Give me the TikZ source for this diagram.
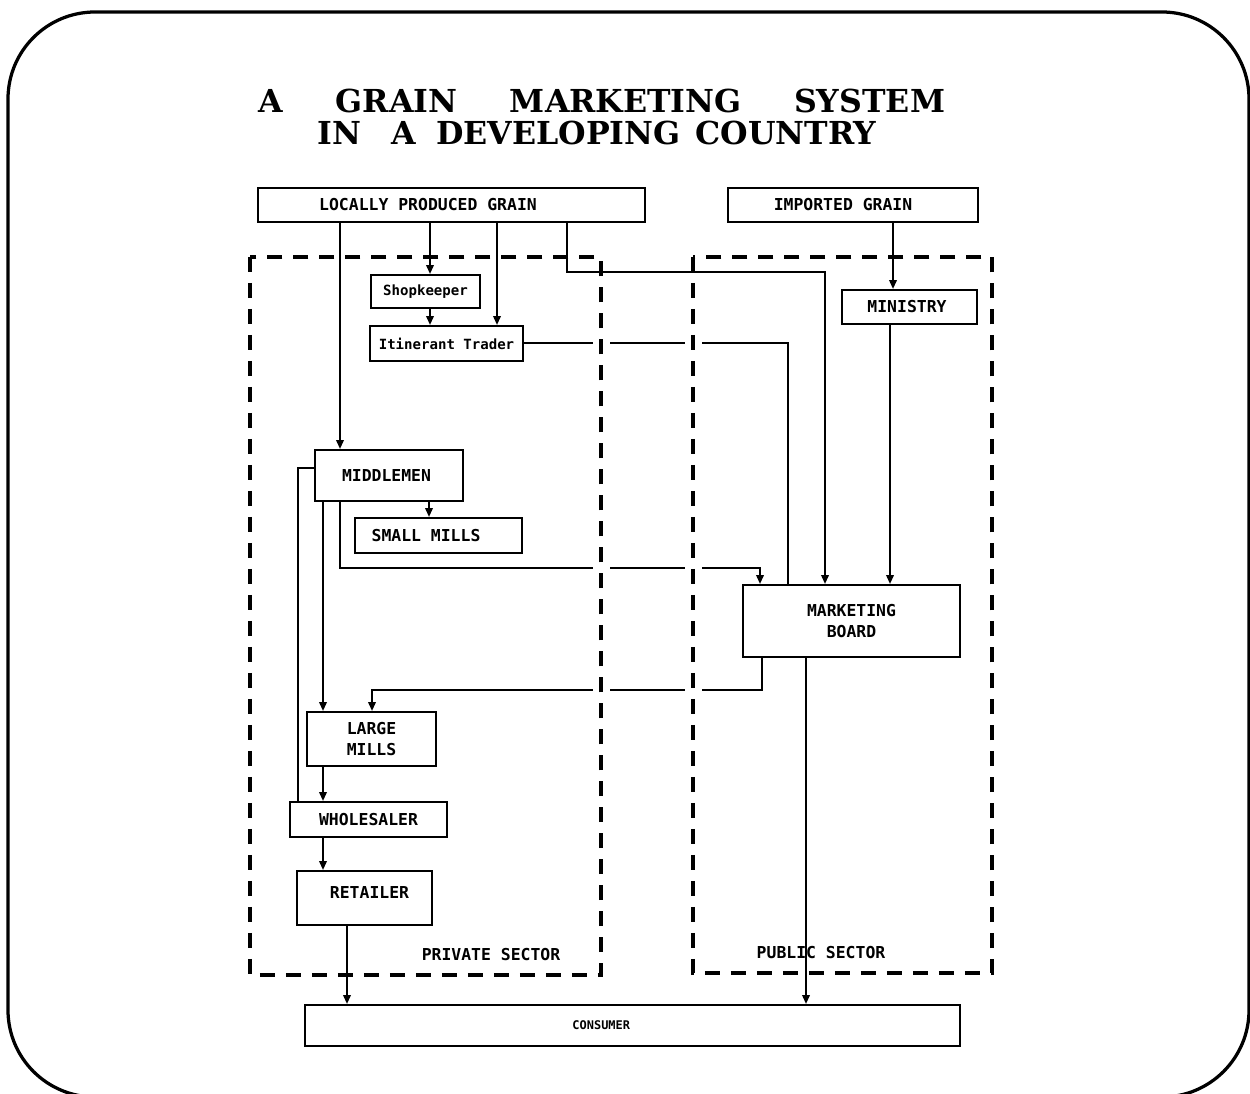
\documentclass[tikz,border=0pt]{standalone}
\usepackage{fontspec}
\usetikzlibrary{arrows.meta}
\newfontfamily\labelfont{DejaVu Sans Mono}
\newfontfamily\titlefont{DejaVu Serif}
\begin{document}
\begin{tikzpicture}[x=0.02cm,y=-0.02cm,
  box/.style={draw, line width=0.04cm, inner sep=0pt, align=center,
    font=\labelfont\bfseries\fontsize{9.35}{12.5}\selectfont},
  smallbox/.style={box, font=\labelfont\bfseries\fontsize{8}{10}\selectfont},
  sectorlabel/.style={inner sep=0pt, font=\labelfont\bfseries\fontsize{9.35}{11}\selectfont},
  conn/.style={line width=0.04cm},
  arr/.style={conn, -{Triangle[length=0.18cm,width=0.15cm]}},
  sector/.style={line width=0.065cm, dash pattern=on 0.3cm off 0.22cm},
  gap/.style={white, line width=0.34cm},
  titletext/.style={inner sep=0pt, font=\titlefont\bfseries\fontsize{18}{22}\selectfont}
]
\useasboundingbox (0,0) rectangle (1250,1094);

% outer frame
\draw[line width=0.065cm, rounded corners=1.74cm] (8,12) rectangle (1249,1097);

% title
\node[titletext] (title1) at (602,101) {A\hspace{1.05cm}GRAIN\hspace{1.05cm}MARKETING\hspace{1.05cm}SYSTEM};
\node[titletext] (title2) at (597,133) {IN\hspace{0.6cm}A\hspace{0.4cm}DEVELOPING\hspace{0.3cm}COUNTRY};

% sources
\node[box, minimum width=7.74cm, minimum height=0.68cm] (lpg) at (451.5,205)
  {LOCALLY PRODUCED GRAIN\hspace*{0.94cm}};
\node[box, minimum width=5.0cm, minimum height=0.68cm] (imp) at (853,205)
  {IMPORTED GRAIN\hspace*{0.4cm}};

% private sector
\node[smallbox, minimum width=2.18cm, minimum height=0.66cm] (shop) at (425.5,291.5) {Shopkeeper};
\node[smallbox, minimum width=3.06cm, minimum height=0.70cm] (itin) at (446.5,343.5) {Itinerant Trader};
\node[box, minimum width=2.96cm, minimum height=1.02cm] (mid) at (389,475.5) {MIDDLEMEN\hspace*{0.1cm}};
\node[box, minimum width=3.34cm, minimum height=0.70cm] (small) at (438.5,535.5) {SMALL MILLS\hspace*{0.5cm}};
\node[box, minimum width=2.58cm, minimum height=1.08cm] (large) at (371.5,739) {LARGE\\MILLS};
\node[box, minimum width=3.14cm, minimum height=0.70cm] (whole) at (368.5,819.5) {WHOLESALER};
\node[box, minimum width=2.70cm, minimum height=1.08cm] (ret) at (364.5,898) {\hspace*{0.2cm}RETAILER\rule[-0.2cm]{0pt}{0pt}};

% public sector
\node[box, minimum width=2.70cm, minimum height=0.68cm] (min) at (909.5,307) {MINISTRY\hspace*{0.1cm}};
\node[box, minimum width=4.34cm, minimum height=1.44cm] (mb) at (851.5,621) {MARKETING\\BOARD};

% consumer
\node[box, minimum width=13.1cm, minimum height=0.82cm,
  font=\labelfont\bfseries\fontsize{6.8}{8}\selectfont] (cons) at (632.5,1025.5) {CONSUMER\hspace*{1.25cm}};

% flows from locally produced grain
\draw[arr] (lpg.south -| 340,0) -- (mid.north -| 340,0);
\draw[arr] (lpg.south -| 430,0) -- (shop.north -| 430,0);
\draw[arr] (shop.south -| 430,0) -- (itin.north -| 430,0);
\draw[arr] (lpg.south -| 497,0) -- (itin.north -| 497,0);
\draw[arr] (lpg.south -| 567,0) -- (567,272) -- (825,272) -- (mb.north -| 825,0);
\draw[conn] (itin.east) -- (788,343.5) -- (mb.north -| 788,0);

% imported grain
\draw[arr] (imp.south -| 893,0) -- (min.north -| 893,0);
\draw[arr] (min.south -| 890,0) -- (mb.north -| 890,0);

% middlemen
\draw[arr] (mid.south -| 340,0) -- (340,568) -- (760,568) -- (mb.north -| 760,0);
\draw[arr] (mid.south -| 429,0) -- (small.north -| 429,0);
\draw[arr] (mid.south -| 323,0) -- (large.north -| 323,0);
\draw[conn] (mid.west |- 0,468) -- (298,468) -- (whole.north -| 298,0);

% marketing board
\draw[arr] (mb.south -| 762,0) -- (762,690) -- (372,690) -- (large.north -| 372,0);
\draw[arr] (mb.south -| 806,0) -- (cons.north -| 806,0);

% down the private chain
\draw[arr] (large.south -| 323,0) -- (whole.north -| 323,0);
\draw[arr] (whole.south -| 323,0) -- (ret.north -| 323,0);
\draw[arr] (ret.south -| 347,0) -- (cons.north -| 347,0);

% breaks where flows cross the sector borders
\draw[gap] (601,300) -- (601,940);
\draw[gap] (693,300) -- (693,940);

% sector borders
\draw[sector] (250,257) rectangle (601,975);
\draw[sector] (693,257) rectangle (992,973);
\node[sectorlabel] (privlabel) at (491,955) {PRIVATE SECTOR};
\node[sectorlabel] (publabel) at (821,953) {PUBLIC SECTOR};
\end{tikzpicture}
\end{document}
